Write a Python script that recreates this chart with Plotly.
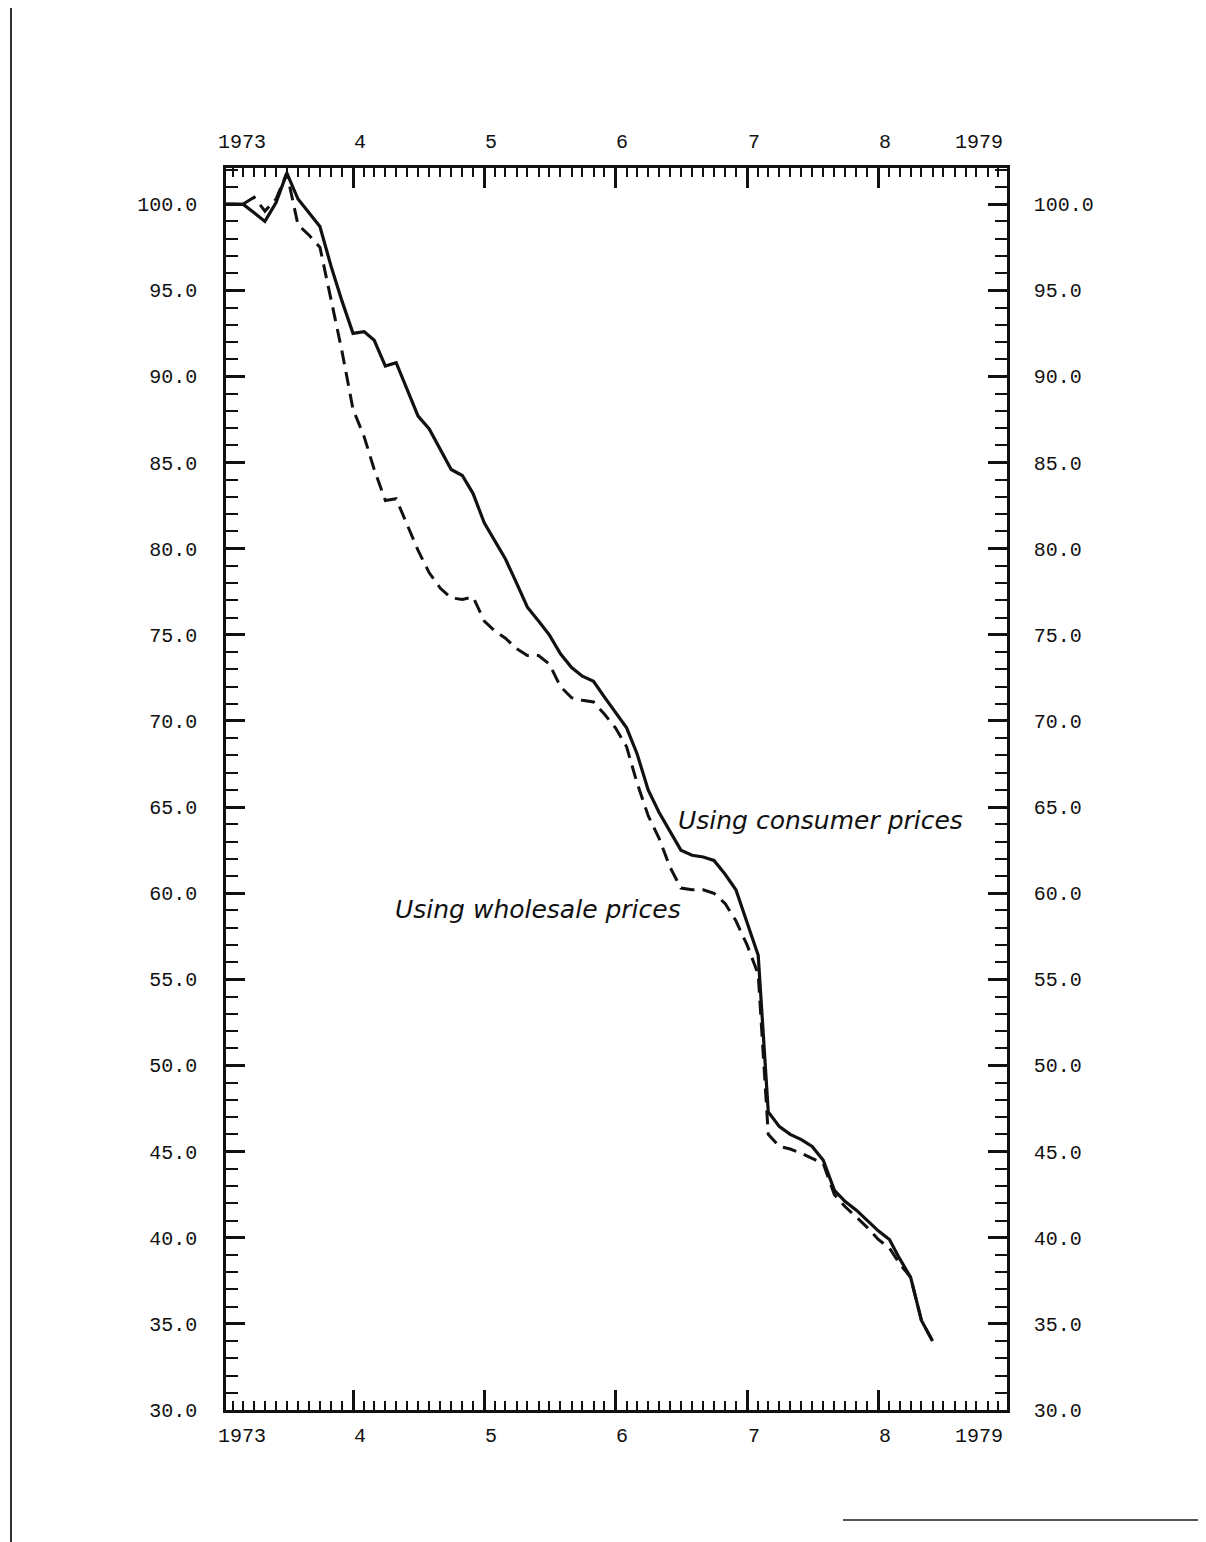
import plotly.graph_objects as go
import pandas as pd

# Monthly observations, January 1973 to June 1978 (index, first month = 100)
months = pd.date_range("1973-01-01", periods=66, freq="MS")

consumer = [
    100.0, 100.0, 100.0, 99.5, 99.0, 100.1, 101.8, 100.3, 99.5, 98.7, 96.4, 94.4,
    92.5, 92.6, 92.1, 90.6, 90.8, 89.2, 87.7, 86.95, 85.8, 84.6, 84.25, 83.2,
    81.5, 80.4, 79.4, 78.0, 76.6, 75.8, 75.0, 73.9, 73.1, 72.6, 72.3, 71.4,
    70.5, 69.6, 68.1, 66.0, 64.7, 63.6, 62.5, 62.2, 62.1, 61.9, 61.1, 60.2,
    58.3, 56.4, 47.3, 46.45, 46.0, 45.7, 45.3, 44.5, 42.75, 42.1, 41.6, 41.0,
    40.4, 39.9, 38.8, 37.7, 35.2, 34.0,
]

wholesale = [
    100.0, 100.0, 100.0, 100.4, 99.6, 100.3, 101.8, 98.8, 98.2, 97.5, 94.5, 91.5,
    88.1, 86.5, 84.6, 82.8, 82.9, 81.4, 79.9, 78.6, 77.7, 77.15, 77.05, 77.2,
    75.8, 75.2, 74.8, 74.2, 73.8, 73.8, 73.3, 72.0, 71.35, 71.2, 71.1, 70.4,
    69.6, 68.5, 66.4, 64.5, 63.2, 61.5, 60.3, 60.2, 60.2, 60.0, 59.4, 58.4,
    57.0, 55.3, 46.0, 45.3, 45.15, 44.9, 44.6, 44.3, 42.5, 41.8, 41.2, 40.6,
    39.9, 39.4, 38.5, 37.7, 35.2, 34.0,
]

# inner year ticks and their labels; the outer years sit at the frame edges
year_ticks = ["1974-01-01", "1975-01-01", "1976-01-01", "1977-01-01", "1978-01-01"]
year_labels = ["4", "5", "6", "7", "8"]
edge_labels = ["1973", "1979"]

series_labels = ["Using consumer prices", "Using wholesale prices"]

INK = "#111111"
MONO = "Liberation Mono, DejaVu Sans Mono, monospace"

fig = go.Figure()

fig.add_trace(go.Scatter(
    x=months, y=wholesale, mode="lines", name=series_labels[1],
    line=dict(color=INK, width=3, dash="14px,8px"),
    xaxis="x", yaxis="y", showlegend=False,
))
fig.add_trace(go.Scatter(
    x=months, y=consumer, mode="lines", name=series_labels[0],
    line=dict(color=INK, width=3.2),
    xaxis="x2", yaxis="y2", showlegend=False,
))

x_range = ["1973-01-12 18:00", "1978-12-25"]
y_range = [30, 102.1]

xcommon = dict(
    type="date", range=x_range, showline=True, linecolor=INK, linewidth=2.5,
    ticks="inside", tick0="1973-01-01", dtick="M12", ticklen=20, tickwidth=2.5,
    tickcolor=INK, showticklabels=False, showgrid=False, zeroline=False,
    minor=dict(ticks="inside", tick0="1973-01-01", dtick="M1", ticklen=9,
               tickwidth=2, tickcolor=INK, showgrid=False),
)
ycommon = dict(
    range=y_range, showline=True, linecolor=INK, linewidth=2.5,
    ticks="inside", tick0=30, dtick=5, ticklen=19, tickwidth=2.5, tickcolor=INK,
    tickformat=".1f", tickfont=dict(family=MONO, size=20, color=INK),
    showgrid=False, zeroline=False,
    minor=dict(ticks="inside", tick0=30, dtick=1, ticklen=12, tickwidth=2,
               tickcolor=INK, showgrid=False),
)

fig.update_layout(
    width=1206, height=1542,
    margin=dict(l=218, r=207, t=160, b=140),
    paper_bgcolor="white", plot_bgcolor="white",
    xaxis=dict(**xcommon, side="bottom", anchor="y"),
    xaxis2=dict(**xcommon, side="top", anchor="y2", overlaying="x", matches="x"),
    yaxis=dict(**ycommon, side="left", anchor="x", ticklabelstandoff=22),
    yaxis2=dict(**ycommon, side="right", anchor="x2", overlaying="y",
                matches="y", ticklabelstandoff=20),
)

label_font = dict(family=MONO, size=20, color=INK)
annotations = []
for ypos, ysh in ((1, 26), (0, -26)):
    for xv, lab in zip(year_ticks, year_labels):
        annotations.append(dict(
            x=xv, y=ypos, xref="x", yref="paper", text=lab, showarrow=False,
            xanchor="center", yanchor="middle", xshift=7, yshift=ysh,
            font=label_font,
        ))
    annotations.append(dict(
        x=0, y=ypos, xref="paper", yref="paper", text=edge_labels[0],
        showarrow=False, xanchor="left", yanchor="middle", xshift=-10,
        yshift=ysh, font=label_font,
    ))
    annotations.append(dict(
        x=1, y=ypos, xref="paper", yref="paper", text=edge_labels[1],
        showarrow=False, xanchor="right", yanchor="middle", xshift=-2,
        yshift=ysh, font=label_font,
    ))

annotations.append(dict(
    x="1976-06-18", y=64.2, xref="x", yref="y", text=series_labels[0],
    showarrow=False, xanchor="left", yanchor="middle",
    font=dict(family="DejaVu Sans", size=25, color=INK, style="italic"),
))
annotations.append(dict(
    x="1974-04-22", y=59.06, xref="x", yref="y", text=series_labels[1],
    showarrow=False, xanchor="left", yanchor="middle",
    font=dict(family="DejaVu Sans", size=25, color=INK, style="italic"),
))
fig.update_layout(annotations=annotations)

# scan border remnants of the original page
fig.add_shape(type="line", xref="paper", yref="paper",
              x0=-0.2753, x1=-0.2753, y0=-0.1127, y1=1.1288,
              line=dict(color="#333333", width=2))
fig.add_shape(type="line", xref="paper", yref="paper",
              x0=0.79, x1=1.265, y0=-0.0886, y1=-0.0886,
              line=dict(color="#555555", width=2))

fig.write_html("out.html")
